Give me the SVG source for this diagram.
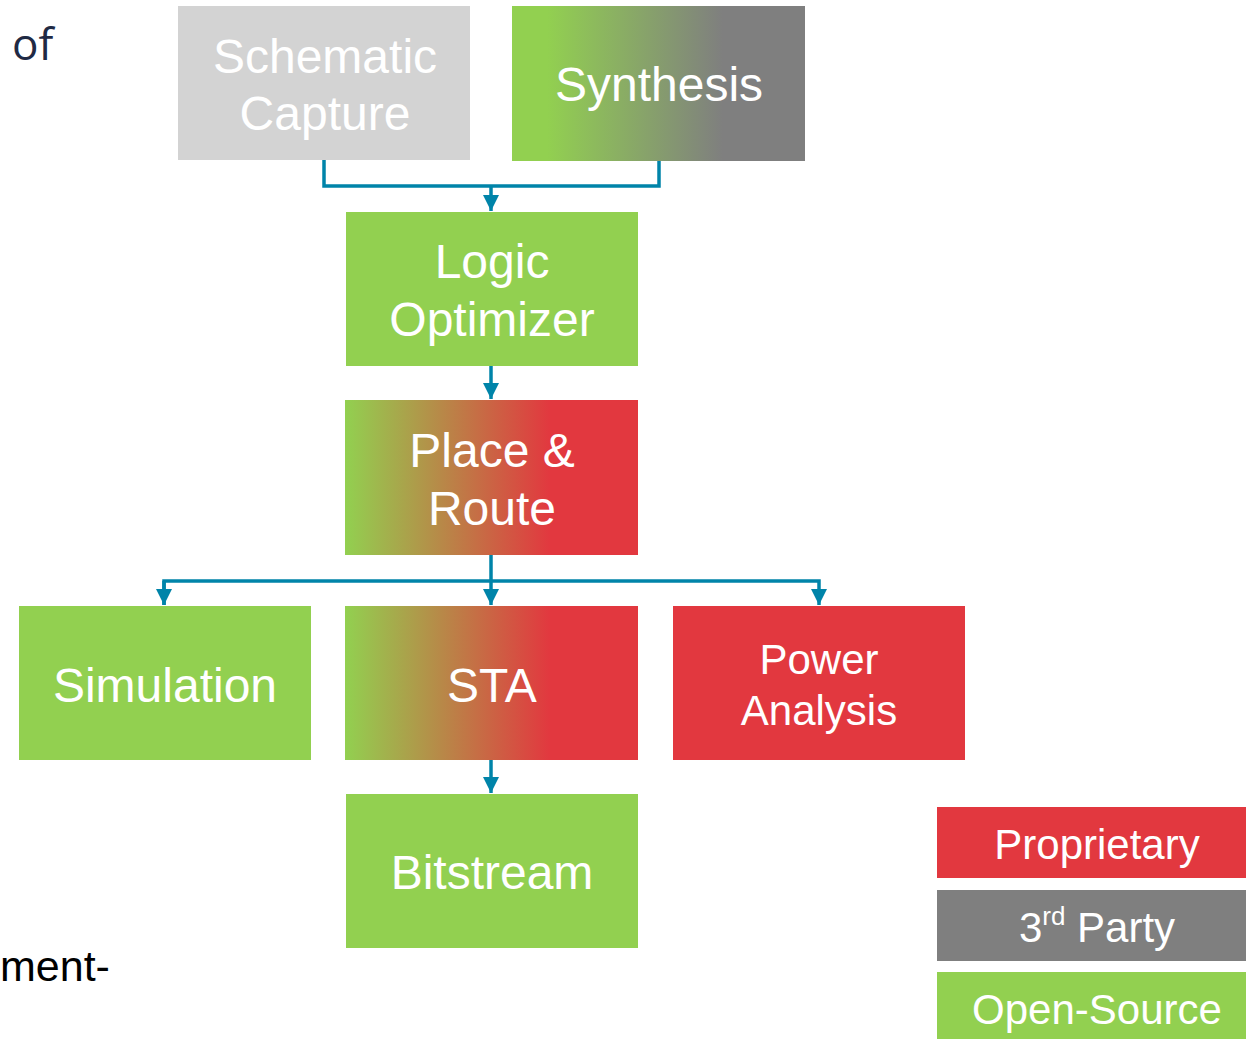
<svg xmlns="http://www.w3.org/2000/svg" width="1246" height="1039" viewBox="0 0 1246 1039">
<style>
.t{font-family:"Liberation Sans",Arial,sans-serif;fill:#ffffff;text-anchor:middle}
.big{font-size:48px}
.mid{font-size:42px}
.conn{fill:none;stroke:#0084a9;stroke-width:3.5}
</style>
<defs>
<linearGradient id="gSyn" x1="0" y1="0" x2="1" y2="0">
<stop offset="0.12" stop-color="#92d050"/>
<stop offset="0.72" stop-color="#7f7f7f"/>
</linearGradient>
<linearGradient id="gRed" x1="0" y1="0" x2="1" y2="0">
<stop offset="0" stop-color="#92d050"/>
<stop offset="0.7" stop-color="#e2383f"/>
</linearGradient>
<marker id="arr" viewBox="0 0 10 10" refX="10" refY="5" markerWidth="5" markerHeight="4.6" markerUnits="strokeWidth" orient="auto">
<path d="M0,0 L10,5 L0,10 z" fill="#0084a9"/>
</marker>
</defs>
<rect width="1246" height="1039" fill="#ffffff"/>
<text x="12" y="60" style="font-family:'Open Sans','Liberation Sans',sans-serif;font-size:44px;fill:#1f2a44">of</text>
<text x="0" y="981" style="font-family:'Liberation Sans',Arial,sans-serif;font-size:43px;fill:#000000">ment-</text>
<g id="connectors">
<path class="conn" d="M324,160 V186 H659 V161"/>
<path class="conn" d="M491,186 V211" marker-end="url(#arr)"/>
<path class="conn" d="M491,366 V399" marker-end="url(#arr)"/>
<path class="conn" d="M491,555 V605" marker-end="url(#arr)"/>
<path class="conn" d="M164,605 V581 H819 V605" marker-end="url(#arr)"/>
<path class="conn" d="M164,581 V605" marker-end="url(#arr)"/>
<path class="conn" d="M491,760 V793" marker-end="url(#arr)"/>
</g>
<g id="schematic">
<rect x="178" y="6" width="292" height="154" fill="#d3d3d3"/>
<text class="t big" x="325" y="73">Schematic</text>
<text class="t big" x="325" y="130">Capture</text>
</g>
<g id="synthesis">
<rect x="512" y="6" width="293" height="155" fill="url(#gSyn)"/>
<text class="t big" x="659" y="101">Synthesis</text>
</g>
<g id="logic">
<rect x="346" y="212" width="292" height="154" fill="#92d050"/>
<text class="t big" x="492" y="278">Logic</text>
<text class="t big" x="492" y="336">Optimizer</text>
</g>
<g id="pnr">
<rect x="345" y="400" width="293" height="155" fill="url(#gRed)"/>
<text class="t big" x="492" y="467">Place &amp;</text>
<text class="t big" x="492" y="525">Route</text>
</g>
<g id="simulation">
<rect x="19" y="606" width="292" height="154" fill="#92d050"/>
<text class="t big" x="165" y="702">Simulation</text>
</g>
<g id="sta">
<rect x="345" y="606" width="293" height="154" fill="url(#gRed)"/>
<text class="t big" x="492" y="702">STA</text>
</g>
<g id="power">
<rect x="673" y="606" width="292" height="154" fill="#e2383f"/>
<text class="t mid" x="819" y="674">Power</text>
<text class="t mid" x="819" y="725">Analysis</text>
</g>
<g id="bitstream">
<rect x="346" y="794" width="292" height="154" fill="#92d050"/>
<text class="t big" x="492" y="889">Bitstream</text>
</g>
<g id="legend-proprietary">
<rect x="937" y="807" width="309" height="71" fill="#e2383f"/>
<text class="t mid" x="1097" y="859">Proprietary</text>
</g>
<g id="legend-3rd">
<rect x="937" y="890" width="309" height="71" fill="#7f7f7f"/>
<text class="t mid" x="1097" y="942">3<tspan font-size="26" dy="-17">rd</tspan><tspan dy="17"> Party</tspan></text>
</g>
<g id="legend-open">
<rect x="937" y="972" width="309" height="67" fill="#92d050"/>
<text class="t mid" x="1097" y="1024">Open-Source</text>
</g>
</svg>
